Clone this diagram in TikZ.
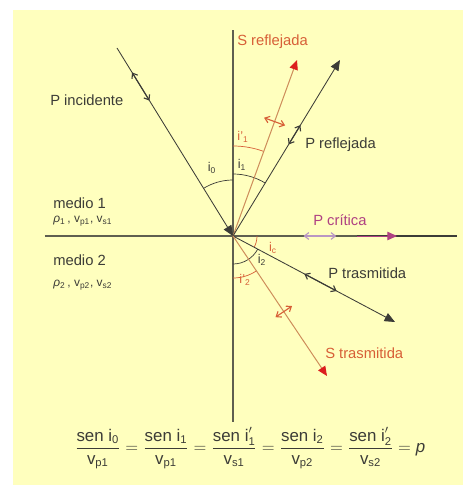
\documentclass[tikz,border=0pt]{standalone}
\usepackage{fontspec}
\setmainfont{Liberation Sans}
\usepackage{amsmath}
\usetikzlibrary{arrows.meta,calc}
\definecolor{paper}{RGB}{255,255,190}
\definecolor{ink}{RGB}{60,60,55}
\definecolor{axis}{RGB}{95,95,80}
\definecolor{rust}{RGB}{215,95,55}
\definecolor{sline}{RGB}{205,140,90}
\definecolor{tipred}{RGB}{220,30,30}
\definecolor{plum}{RGB}{175,65,130}
\definecolor{lilac}{RGB}{185,150,195}
\tikzset{
  axisline/.style={axis,line width=0.8pt},
  pray/.style={ink,line width=0.6pt,-{Triangle[length=2.6mm,width=2.2mm]}},
  sray/.style={sline,line width=0.7pt,-{Triangle[length=2.4mm,width=2.1mm,color=tipred]}},
  pmark/.style={#1,line width=0.8pt,
    {Straight Barb[length=1.1mm,width=1.7mm]}-{Straight Barb[length=1.1mm,width=1.7mm]}},
  pmark/.default=ink,
  smark/.style={rust,line width=0.8pt,
    {Straight Barb[length=1.1mm,width=1.7mm]}-{Straight Barb[length=1.1mm,width=1.7mm]}},
  lbl/.style={font=\fontsize{10.5}{12}\selectfont,text=#1,anchor=west,inner sep=0pt},
  lbl/.default=ink,
  ang/.style={font=\fontsize{9}{10}\selectfont,text=#1,inner sep=0pt},
  ang/.default=ink,
  arcline/.style={#1,line width=0.5pt},
  arcline/.default=ink,
}

\begin{document}
\begin{tikzpicture}
  % page and paper
  \useasboundingbox (-5.825,-6.275) rectangle (5.85,5.9);
  \fill[paper] (-5.5,-6.225) rectangle (5.75,5.65);

  % interface and normal
  \coordinate (O) at (0,0);
  \coordinate (axN) at (0,5.15);
  \coordinate (axS) at (0,-4.65);
  \coordinate (axW) at (-4.7,0);
  \coordinate (axE) at (5.6,0);
  \draw[axisline] (axN) -- (axS);
  \draw[axisline] (axW) -- (axE);

  % ray ends
  \coordinate (inc) at (-2.9,4.7);
  \coordinate (sref) at (1.6,4.4);
  \coordinate (pref) at (2.675,4.4);
  \coordinate (crit) at (4.1,0);
  \coordinate (crit0) at (3.1,0);
  \coordinate (ptr) at (4.05,-2.15);
  \coordinate (str) at (2.35,-3.5);

  % angles
  \draw[arcline] (O) ++(90:1.4) arc (90:121.7:1.4);
  \draw[arcline] (O) ++(58.7:1.55) arc (58.7:90:1.55);
  \draw[arcline=rust] (O) ++(70:2.25) arc (70:90:2.25);
  \draw[arcline=rust] (O) ++(0:0.6) arc (0:-28:0.6);
  \draw[arcline] (O) ++(-28:0.7) arc (-28:-90:0.7);
  \draw[arcline=rust] (O) ++(-56:1.05) arc (-56:-90:1.05);

  % rays
  \draw[pray] (inc) -- (O);
  \draw[sray] (O) -- (sref);
  \draw[pray] (O) -- (pref);
  \draw[ink,line width=1pt] (crit0) -- (axE);
  \draw[plum,line width=0.6pt,-{Triangle[length=2.4mm,width=2.1mm]}] (crit0) -- (crit);
  \draw[pray] (O) -- (ptr);
  \draw[sray] (O) -- (str);

  % particle motion
  \draw[pmark] ($(O)!0.72!(inc)$) -- ($(O)!0.87!(inc)$);
  \draw[pmark] ($(O)!0.52!(pref)$) -- ($(O)!0.63!(pref)$);
  \draw[pmark=lilac] ($(O)!0.43!(crit)$) -- ($(O)!0.63!(crit)$);
  \draw[pmark] ($(O)!0.44!(ptr)$) -- ($(O)!0.64!(ptr)$);
  \coordinate (sm1) at ($(O)!0.65!(sref)$);
  \coordinate (sm2) at ($(O)!0.54!(str)$);
  \draw[smark] ($(sm1)!0.28cm!90:(sref)$) -- ($(sm1)!0.28cm!-90:(sref)$);
  \draw[smark] ($(sm2)!0.25cm!90:(str)$) -- ($(sm2)!0.25cm!-90:(str)$);

  % labels
  \node[lbl=rust] (lsref) at (0.1,4.85) {S reflejada};
  \node[lbl] (linc) at (-4.575,3.4) {P incidente};
  \node[lbl] (lpref) at (1.8,2.275) {P reflejada};
  \node[lbl=plum] (lcrit) at (2.0,0.4) {P crítica};
  \node[lbl] (lptr) at (2.375,-0.925) {P trasmitida};
  \node[lbl=rust] (lstr) at (2.3,-2.925) {S trasmitida};
  \node[lbl] (med1) at (-4.5,0.825) {medio 1};
  \node[lbl,font=\fontsize{8.5}{10}\selectfont] (par1) at (-4.5,0.375)
    {\textit{ρ}\textsubscript{1}\,, v\textsubscript{p1}, v\textsubscript{s1}};
  \node[lbl] (med2) at (-4.5,-0.6) {medio 2};
  \node[lbl,font=\fontsize{8.5}{10}\selectfont] (par2) at (-4.5,-1.225)
    {\textit{ρ}\textsubscript{2}\,, v\textsubscript{p2}, v\textsubscript{s2}};

  \node[ang] (a0) at (-0.525,1.7) {i\textsubscript{0}};
  \node[ang] (a1) at (0.225,1.775) {i\textsubscript{1}};
  \node[ang=rust] (a1s) at (0.25,2.475) {i'\textsubscript{1}};
  \node[ang=rust] (ac) at (1.0,-0.3) {i\textsubscript{c}};
  \node[ang] (a2) at (0.725,-0.6) {i\textsubscript{2}};
  \node[ang=rust] (a2s) at (0.3,-1.1) {i'\textsubscript{2}};

  % Snell
  \node[text=ink,font=\fontsize{12}{14}\selectfont] (snell) at (0.425,-5.3)
    {$\dfrac{\text{sen i}_{\text{0}}}{\text{v}_{\text{p1}}}
      = \dfrac{\text{sen i}_{\text{1}}}{\text{v}_{\text{p1}}}
      = \dfrac{\text{sen i}'_{\text{1}}}{\text{v}_{\text{s1}}}
      = \dfrac{\text{sen i}_{\text{2}}}{\text{v}_{\text{p2}}}
      = \dfrac{\text{sen i}'_{\text{2}}}{\text{v}_{\text{s2}}} = \textit{p}$};
\end{tikzpicture}
\end{document}
